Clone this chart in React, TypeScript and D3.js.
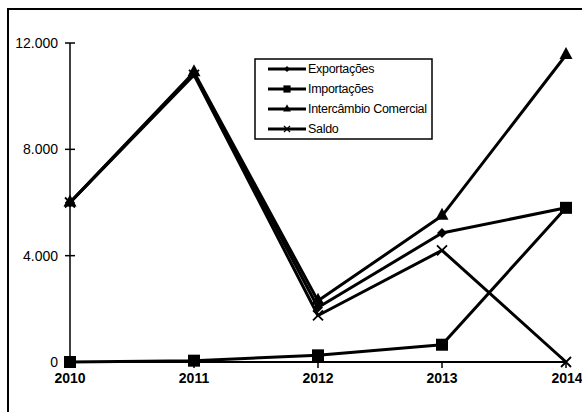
import React from "react";
import * as d3 from "d3";

const years = ["2010", "2011", "2012", "2013", "2014"];
const exportacoes = [6000, 10850, 2050, 4850, 5800];
const importacoes = [0, 50, 250, 650, 5800];
const intercambio = [6000, 10900, 2300, 5500, 11550];
const saldo = [6000, 10800, 1750, 4200, 0];
const yTicks = [0, 4000, 8000, 12000];
const yTickLabels = ["0", "4.000", "8.000", "12.000"];
const seriesNames = ["Exportações", "Importações", "Intercâmbio Comercial", "Saldo"];

type MarkerKind = "diamond" | "square" | "triangle" | "x";

const Marker = ({ kind, x, y, s = 1 }: { kind: MarkerKind; x: number; y: number; s?: number }) => {
  if (kind === "square") return <rect x={x - 6 * s} y={y - 6 * s} width={12 * s} height={12 * s} fill="#000" />;
  if (kind === "diamond")
    return <path d={`M${x},${y - 5 * s}L${x + 5 * s},${y}L${x},${y + 5 * s}L${x - 5 * s},${y}Z`} fill="#000" />;
  if (kind === "triangle")
    return <path d={`M${x},${y - 8 * s}L${x + 6.5 * s},${y + 4 * s}L${x - 6.5 * s},${y + 4 * s}Z`} fill="#000" />;
  return (
    <path
      d={`M${x - 5 * s},${y - 5 * s}L${x + 5 * s},${y + 5 * s}M${x - 5 * s},${y + 5 * s}L${x + 5 * s},${y - 5 * s}`}
      stroke="#000"
      strokeWidth={1.8 * Math.max(s, 0.7)}
      fill="none"
    />
  );
};

export default function App() {
  const width = 582;
  const height = 412;
  const x = d3.scalePoint<string>().domain(years).range([70, 566]);
  const y = d3.scaleLinear().domain([0, 12000]).range([362, 43]);
  const series: { name: string; values: number[]; kind: MarkerKind }[] = [
    { name: seriesNames[0], values: exportacoes, kind: "diamond" },
    { name: seriesNames[1], values: importacoes, kind: "square" },
    { name: seriesNames[2], values: intercambio, kind: "triangle" },
    { name: seriesNames[3], values: saldo, kind: "x" },
  ];
  const line = d3
    .line<number>()
    .x((_, i) => x(years[i]) as number)
    .y((d) => y(d));

  const legendX = 255;
  const legendY = 59;
  const legendRows = [69, 89, 109, 129];

  return (
    <svg
      width={width}
      height={height}
      style={{ position: "absolute", left: 0, top: 0, background: "#fff" }}
      fontFamily="Arial, 'Liberation Sans', sans-serif"
    >
      <rect x={0} y={0} width={width} height={height} fill="#fff" />
      <rect x={8} y={9} width={620} height={430} fill="none" stroke="#000" strokeWidth={2} />

      {/* y axis */}
      <line x1={70} x2={70} y1={y(12000)} y2={y(0)} stroke="#000" strokeWidth={1.5} />
      {yTicks.map((t, i) => (
        <g key={t}>
          <line x1={65} x2={75} y1={y(t)} y2={y(t)} stroke="#000" strokeWidth={1.5} />
          <text x={58} y={y(t)} dy="0.35em" textAnchor="end" fontSize={14}>
            {yTickLabels[i]}
          </text>
        </g>
      ))}

      {/* x axis */}
      <line x1={70} x2={566} y1={y(0)} y2={y(0)} stroke="#000" strokeWidth={2} />
      {years.map((yr, i) => (
        <g key={yr}>
          <line x1={x(yr)} x2={x(yr)} y1={y(0)} y2={y(0) + 6} stroke="#000" strokeWidth={1.5} />
          <text
            x={(x(yr) as number) + (i === years.length - 1 ? 1 : 0)}
            y={383}
            textAnchor="middle"
            fontSize={14}
            fontWeight="bold"
          >
            {yr}
          </text>
        </g>
      ))}

      {/* lines */}
      {series.map((s) => (
        <path key={s.name} d={line(s.values) || ""} fill="none" stroke="#000" strokeWidth={3} strokeLinejoin="round" />
      ))}
      {series.map((s) =>
        s.values.map((v, i) => <Marker key={s.name + i} kind={s.kind} x={x(years[i]) as number} y={y(v)} />)
      )}

      {/* legend */}
      <rect x={legendX} y={legendY} width={177} height={80} fill="#fff" stroke="#000" strokeWidth={1.5} />
      {series.map((s, i) => (
        <g key={s.name}>
          <line x1={268} x2={306} y1={legendRows[i]} y2={legendRows[i]} stroke="#000" strokeWidth={3} />
          <Marker kind={s.kind} x={287} y={legendRows[i]} s={0.6} />
          <text x={308} y={legendRows[i]} dy="0.35em" fontSize={12.5} letterSpacing={-0.3}>
            {s.name}
          </text>
        </g>
      ))}
    </svg>
  );
}
